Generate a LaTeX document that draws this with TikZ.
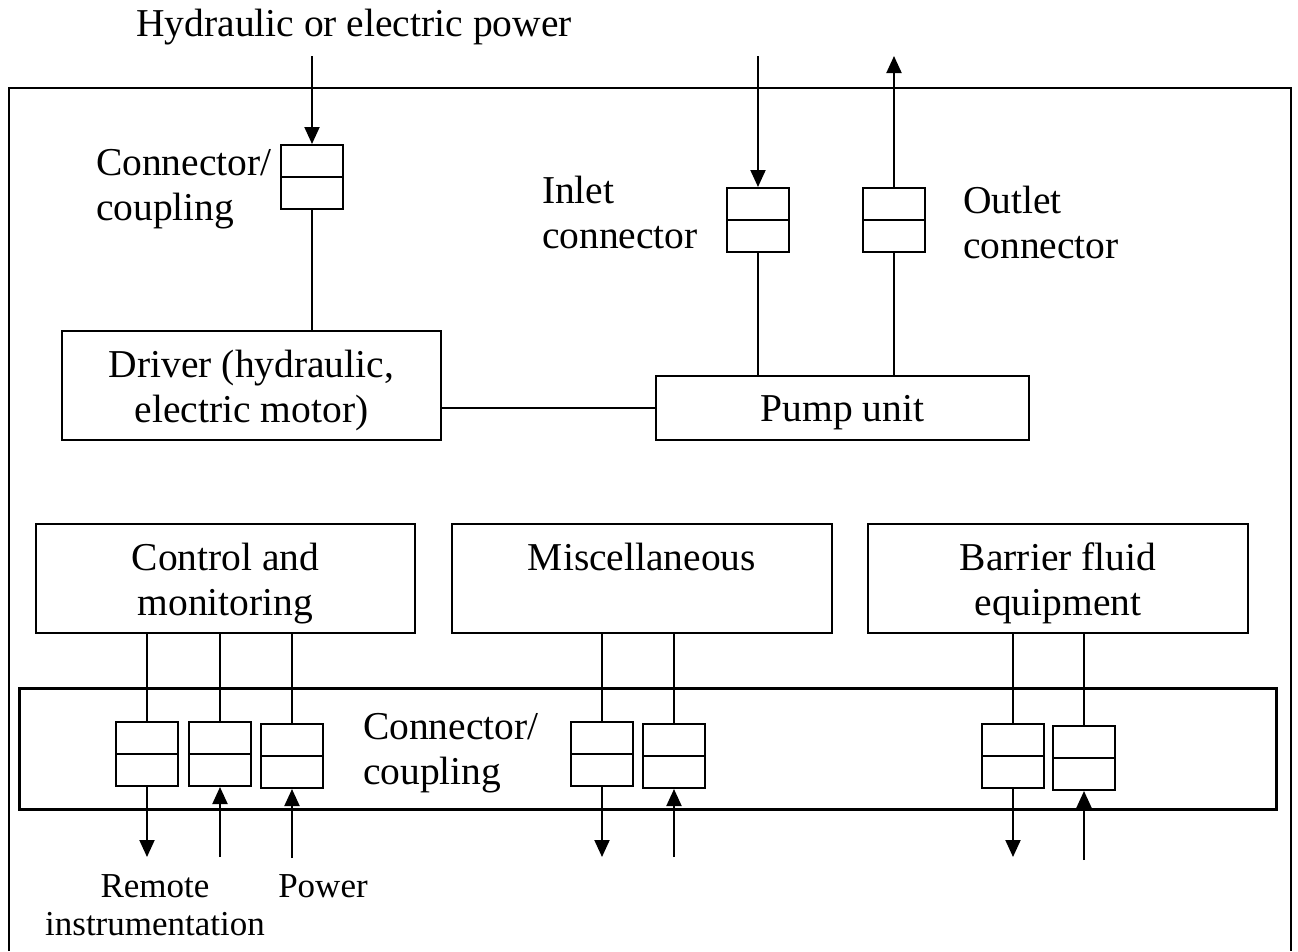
\documentclass[tikz,border=0pt]{standalone}
\usepackage{fontspec}
\setmainfont{Liberation Serif}
\usetikzlibrary{arrows.meta}
\begin{document}
\begin{tikzpicture}[x=1pt,y=-1pt,
  line width=2pt,
  big/.style={font=\fontsize{39.5}{45}\selectfont},
  small/.style={font=\fontsize{35}{38}\selectfont},
  blk/.style={draw,rectangle,inner sep=0pt},
  conn/.style={draw,rectangle,inner sep=0pt,minimum width=62pt,minimum height=64pt,
    path picture={\draw[line width=2pt] (path picture bounding box.west) -- (path picture bounding box.east);}},
  lbl/.style={inner sep=0pt,align=left,big},
  ctext/.style={inner sep=0pt,align=center,big},
  arr/.style={-{Triangle[length=17pt,width=15pt]}}
]
\useasboundingbox (0,0) rectangle (1298,951);
% outer frame (open at bottom)
\draw (9,951) -- (9,88) -- (1291,88) -- (1291,951);

% top part
\node[lbl,anchor=base] (hyd) at (354,36) {Hydraulic or electric power};
\node[conn] (pc) at (312,177) {};
\node[lbl,anchor=west] (pcl) at (95,189) {Connector/\\coupling};
\node[conn] (inc) at (758,220) {};
\node[lbl,anchor=west] (incl) at (541,212) {Inlet\\connector};
\node[conn] (outc) at (894,220) {};
\node[lbl,anchor=west] (outcl) at (962,222) {Outlet\\connector};

\node[blk,minimum width=379pt,minimum height=109pt] (driver) at (251.5,385.5) {};
\node[ctext] (driverl) at ([yshift=-5pt]driver.center) {Driver (hydraulic,\\electric motor)};
\node[blk,minimum width=373pt,minimum height=64pt] (pump) at (842.5,408) {};
\node[ctext] (pumpl) at ([yshift=-5pt]pump.center) {Pump unit};

\coordinate (pin) at (312,56);
\coordinate (iin) at (758,56);
\coordinate (oout) at (894,56);
\draw[arr] (pin) -- (pc.north);
\draw (pc.south) -- (pc.south |- driver.north);
\draw[arr] (iin) -- (inc.north);
\draw (inc.south) -- (inc.south |- pump.north);
\draw (outc.south |- pump.north) -- (outc.south);
\draw[arr] (outc.north) -- (oout);
\draw (driver.east |- pump.west) -- (pump.west);

% lower part
\node[blk,minimum width=379pt,minimum height=109pt] (ctrl) at (225.5,578.5) {};
\node[ctext] (ctrll) at ([yshift=-5pt]ctrl.center) {Control and\\monitoring};
\node[blk,minimum width=380pt,minimum height=109pt] (misc) at (642,578.5) {};
\node[ctext,anchor=base] (miscl) at (642,570) {Miscellaneous};
\node[blk,minimum width=380pt,minimum height=109pt] (barrier) at (1058,578.5) {};
\node[ctext] (barrierl) at ([yshift=-5pt]barrier.center) {Barrier fluid\\equipment};

\node[draw,rectangle,line width=3pt,minimum width=1257pt,minimum height=121pt] (band) at (647.5,749) {};
\node[lbl,anchor=west] (bandl) at (362,753) {Connector/\\coupling};

\node[conn] (c1) at (147,754) {};
\node[conn] (c2) at (220,754) {};
\node[conn] (c3) at (292,756) {};
\node[conn] (m1) at (602,754) {};
\node[conn] (m2) at (674,756) {};
\node[conn] (b1) at (1013,756) {};
\node[conn] (b2) at (1084,758) {};

\foreach \n in {c1,c2,c3}{\draw (\n.north |- ctrl.south) -- (\n.north);}
\foreach \n in {m1,m2}{\draw (\n.north |- misc.south) -- (\n.north);}
\foreach \n in {b1,b2}{\draw (\n.north |- barrier.south) -- (\n.north);}

\coordinate (c1e) at (147,857);
\coordinate (c2e) at (220,857);
\coordinate (c3e) at (292,858);
\coordinate (m1e) at (602,857);
\coordinate (m2e) at (674,857);
\coordinate (b1e) at (1013,857);
\coordinate (b2e) at (1084,860);
\draw[arr] (c1.south) -- (c1e);
\draw[arr] (c2e) -- (c2.south);
\draw[arr] (c3e) -- (c3.south);
\draw[arr] (m1.south) -- (m1e);
\draw[arr] (m2e) -- (m2.south);
\draw[arr] (b1.south) -- (b1e);
\draw[arr] (b2e) -- (b2.south);

\node[small,inner sep=0pt,anchor=base] (rem) at (155,897) {Remote};
\node[small,inner sep=0pt,anchor=base] (instr) at (155,935) {instrumentation};
\node[small,inner sep=0pt,anchor=base] (pow) at (323,897) {Power};
\end{tikzpicture}
\end{document}
